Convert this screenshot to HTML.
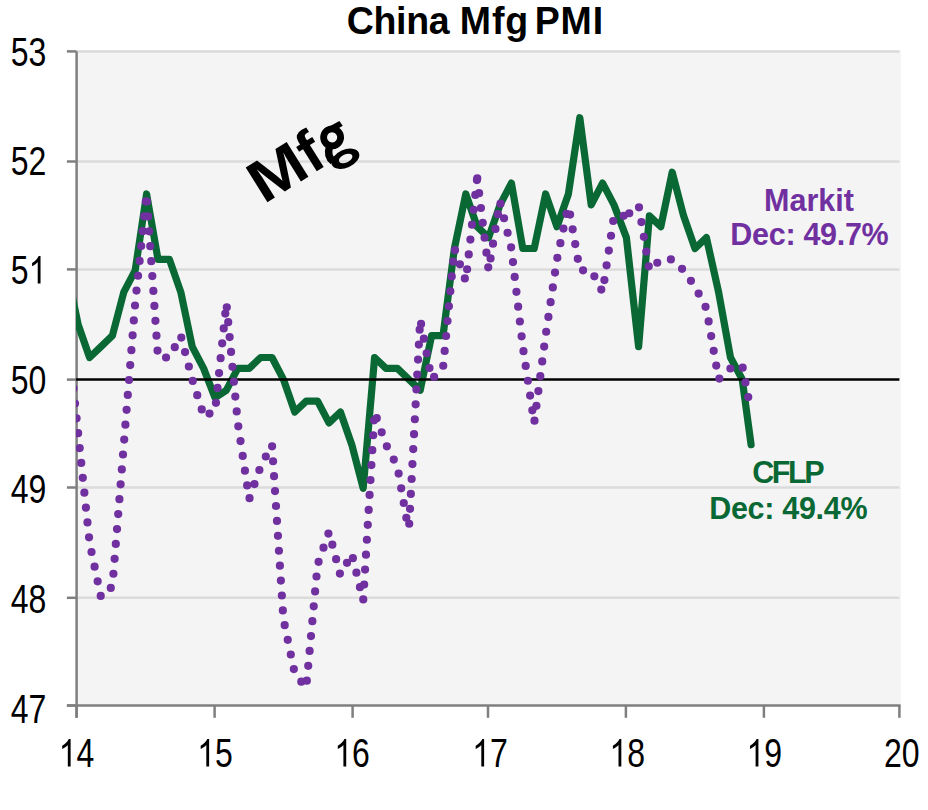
<!DOCTYPE html>
<html><head><meta charset="utf-8"><title>China Mfg PMI</title>
<style>html,body{margin:0;padding:0;background:#fff;}svg{display:block;}text{font-family:"Liberation Sans",sans-serif;}</style>
</head><body>
<svg width="928" height="810" viewBox="0 0 928 810">
<rect x="76.6" y="50.199999999999996" width="824.3" height="655.3" fill="#f4f4f4"/>
<line x1="76.6" y1="51.4" x2="899.4" y2="51.4" stroke="#dbdbdb" stroke-width="2.5"/>
<line x1="76.6" y1="161.5" x2="899.4" y2="161.5" stroke="#dbdbdb" stroke-width="2.5"/>
<line x1="76.6" y1="269.4" x2="899.4" y2="269.4" stroke="#dbdbdb" stroke-width="2.5"/>
<line x1="76.6" y1="487.5" x2="899.4" y2="487.5" stroke="#dbdbdb" stroke-width="2.5"/>
<line x1="76.6" y1="597.8" x2="899.4" y2="597.8" stroke="#dbdbdb" stroke-width="2.5"/>
<line x1="76.6" y1="51.4" x2="76.6" y2="717.8" stroke="#7f7f7f" stroke-width="2.5"/>
<line x1="66.9" y1="705.5" x2="900.6" y2="705.5" stroke="#7f7f7f" stroke-width="2.5"/>
<line x1="66.9" y1="51.4" x2="76.6" y2="51.4" stroke="#7f7f7f" stroke-width="2.5"/>
<line x1="66.9" y1="161.5" x2="76.6" y2="161.5" stroke="#7f7f7f" stroke-width="2.5"/>
<line x1="66.9" y1="269.4" x2="76.6" y2="269.4" stroke="#7f7f7f" stroke-width="2.5"/>
<line x1="66.9" y1="379.6" x2="76.6" y2="379.6" stroke="#7f7f7f" stroke-width="2.5"/>
<line x1="66.9" y1="487.5" x2="76.6" y2="487.5" stroke="#7f7f7f" stroke-width="2.5"/>
<line x1="66.9" y1="597.8" x2="76.6" y2="597.8" stroke="#7f7f7f" stroke-width="2.5"/>
<line x1="66.9" y1="705.5" x2="76.6" y2="705.5" stroke="#7f7f7f" stroke-width="2.5"/>
<line x1="76.6" y1="705.5" x2="76.6" y2="717.8" stroke="#7f7f7f" stroke-width="2.5"/>
<line x1="214.6" y1="705.5" x2="214.6" y2="717.8" stroke="#7f7f7f" stroke-width="2.5"/>
<line x1="352.6" y1="705.5" x2="352.6" y2="717.8" stroke="#7f7f7f" stroke-width="2.5"/>
<line x1="488.0" y1="705.5" x2="488.0" y2="717.8" stroke="#7f7f7f" stroke-width="2.5"/>
<line x1="625.9" y1="705.5" x2="625.9" y2="717.8" stroke="#7f7f7f" stroke-width="2.5"/>
<line x1="763.9" y1="705.5" x2="763.9" y2="717.8" stroke="#7f7f7f" stroke-width="2.5"/>
<line x1="899.4" y1="705.5" x2="899.4" y2="717.8" stroke="#7f7f7f" stroke-width="2.5"/>
<defs><clipPath id="c"><rect x="75.9" y="0" width="825.0" height="810"/></clipPath></defs>
<g clip-path="url(#c)">
<path d="M66.8,270.3 L78.2,324.8 L89.6,357.5 L101.0,346.6 L112.4,335.7 L123.8,292.1 L135.2,270.3 L146.6,194.0 L158.0,259.4 L169.4,259.4 L180.8,292.1 L192.2,346.6 L203.6,368.4 L215.0,397.8 L226.4,390.2 L237.8,368.4 L249.2,368.4 L260.6,357.5 L272.0,357.5 L283.4,379.3 L294.8,412.0 L306.2,401.1 L317.6,401.1 L329.0,422.9 L340.4,412.0 L351.8,444.7 L363.2,488.3 L374.6,357.5 L386.0,368.4 L397.4,368.4 L408.8,379.3 L420.2,390.2 L431.6,335.7 L443.0,335.7 L454.4,248.5 L465.8,194.0 L477.2,226.7 L488.6,237.6 L500.0,204.9 L511.4,183.1 L522.8,248.5 L534.2,248.5 L545.6,194.0 L557.0,226.7 L568.4,194.0 L579.8,117.7 L591.2,204.9 L602.6,183.1 L614.0,204.9 L626.4,237.6 L638.6,346.6 L649.4,215.8 L660.8,226.7 L672.2,172.2 L683.6,215.8 L695.0,248.5 L706.4,237.6 L718.6,292.1 L730.5,357.5 L742.2,379.3 L751.1,444.7" fill="none" stroke="#096833" stroke-width="7.2" stroke-linejoin="round" stroke-linecap="round"/>
<line x1="75.9" y1="379.6" x2="899.4" y2="379.6" stroke="#000" stroke-width="2.5"/>
<g fill="none" stroke="#7030a0" stroke-width="8.2" stroke-linejoin="round" stroke-linecap="round" stroke-dasharray="0 14.95">
<path d="M66.8,324.8 L78.2,433.8 L89.6,542.8 L101.0,597.3 L112.4,586.4 L123.8,444.7 L135.2,303.0 L146.6,194.0 L158.0,357.5 L169.4,357.5 L180.8,335.7 L192.2,379.3 L203.6,415.3" stroke-dashoffset="10.6"/>
<path d="M203.6,415.3 L215.0,412.0 L226.4,303.0 L237.8,422.9 L249.2,499.2 L260.6,466.5 L272.0,444.7 L283.4,619.1 L294.8,673.6 L306.2,687.8 L317.6,564.6 L329.0,531.9 L340.4,575.5" stroke-dashoffset="8.8"/>
<path d="M340.4,575.5 L351.8,553.7 L363.2,600.6 L374.6,412.0 L386.0,444.7 L397.4,466.5 L408.8,531.9" stroke-dashoffset="0.7"/>
<path d="M408.8,531.9 L420.2,319.4 L431.6,379.3 L443.0,368.4 L454.4,248.5 L465.8,281.2 L477.2,177.6" stroke-dashoffset="6.8"/>
<path d="M477.2,177.6 L488.6,270.3 L500.0,201.6 L511.4,248.5 L522.8,346.6 L534.2,422.9 L545.6,335.7 L557.0,259.4 L568.4,204.9" stroke-dashoffset="14.2"/>
<path d="M568.4,204.9 L579.8,270.3 L591.2,270.3 L602.6,292.1 L614.0,215.8 L626.4,215.8" stroke-dashoffset="5.1"/>
<path d="M626.4,215.8 L638.6,204.9 L649.4,270.3 L660.8,259.4 L672.2,259.4 L683.6,270.3 L695.0,286.6 L706.4,308.5 L718.6,379.3 L730.5,368.4 L742.2,365.1 L748.7,399.5" stroke-dashoffset="11.1"/>
</g>
</g>
<g transform="translate(10.81,64.70) scale(0.8,1)"><text x="0.00" y="0.8" font-size="40" font-family="Liberation Sans" fill="#000">5</text><text x="22.25" y="0.8" font-size="40" font-family="Liberation Sans" fill="#000">3</text></g>
<g transform="translate(10.81,174.60) scale(0.8,1)"><text x="0.00" y="0.8" font-size="40" font-family="Liberation Sans" fill="#000">5</text><text x="22.25" y="0.8" font-size="40" font-family="Liberation Sans" fill="#000">2</text></g>
<g transform="translate(10.81,283.60) scale(0.8,1)"><text x="0.00" y="0.8" font-size="40" font-family="Liberation Sans" fill="#000">5</text><path transform="translate(22.25,0) scale(0.01953,-0.01953)" d="M763 0L583 0L583 1100C540 1059 483 1019 413 980C342 941 279 911 223 891L223 1058C324 1103 412 1157 487 1222C562 1286 616 1349 647 1409L763 1409Z" fill="#000"/></g>
<g transform="translate(10.81,393.60) scale(0.8,1)"><text x="0.00" y="0.8" font-size="40" font-family="Liberation Sans" fill="#000">5</text><text x="22.25" y="0.8" font-size="40" font-family="Liberation Sans" fill="#000">0</text></g>
<g transform="translate(10.81,502.40) scale(0.8,1)"><text x="0.00" y="0.8" font-size="40" font-family="Liberation Sans" fill="#000">4</text><text x="22.25" y="0.8" font-size="40" font-family="Liberation Sans" fill="#000">9</text></g>
<g transform="translate(10.81,612.40) scale(0.8,1)"><text x="0.00" y="0.8" font-size="40" font-family="Liberation Sans" fill="#000">4</text><text x="22.25" y="0.8" font-size="40" font-family="Liberation Sans" fill="#000">8</text></g>
<g transform="translate(10.81,722.30) scale(0.8,1)"><text x="0.00" y="0.8" font-size="40" font-family="Liberation Sans" fill="#000">4</text><text x="22.25" y="0.8" font-size="40" font-family="Liberation Sans" fill="#000">7</text></g>
<g transform="translate(58.70,766.40) scale(0.8,1)"><path transform="translate(0.00,0) scale(0.01953,-0.01953)" d="M763 0L583 0L583 1100C540 1059 483 1019 413 980C342 941 279 911 223 891L223 1058C324 1103 412 1157 487 1222C562 1286 616 1349 647 1409L763 1409Z" fill="#000"/><text x="22.25" y="0.8" font-size="40" font-family="Liberation Sans" fill="#000">4</text></g>
<g transform="translate(197.20,766.40) scale(0.8,1)"><path transform="translate(0.00,0) scale(0.01953,-0.01953)" d="M763 0L583 0L583 1100C540 1059 483 1019 413 980C342 941 279 911 223 891L223 1058C324 1103 412 1157 487 1222C562 1286 616 1349 647 1409L763 1409Z" fill="#000"/><text x="22.25" y="0.8" font-size="40" font-family="Liberation Sans" fill="#000">5</text></g>
<g transform="translate(334.30,766.40) scale(0.8,1)"><path transform="translate(0.00,0) scale(0.01953,-0.01953)" d="M763 0L583 0L583 1100C540 1059 483 1019 413 980C342 941 279 911 223 891L223 1058C324 1103 412 1157 487 1222C562 1286 616 1349 647 1409L763 1409Z" fill="#000"/><text x="22.25" y="0.8" font-size="40" font-family="Liberation Sans" fill="#000">6</text></g>
<g transform="translate(472.20,766.40) scale(0.8,1)"><path transform="translate(0.00,0) scale(0.01953,-0.01953)" d="M763 0L583 0L583 1100C540 1059 483 1019 413 980C342 941 279 911 223 891L223 1058C324 1103 412 1157 487 1222C562 1286 616 1349 647 1409L763 1409Z" fill="#000"/><text x="22.25" y="0.8" font-size="40" font-family="Liberation Sans" fill="#000">7</text></g>
<g transform="translate(609.40,766.40) scale(0.8,1)"><path transform="translate(0.00,0) scale(0.01953,-0.01953)" d="M763 0L583 0L583 1100C540 1059 483 1019 413 980C342 941 279 911 223 891L223 1058C324 1103 412 1157 487 1222C562 1286 616 1349 647 1409L763 1409Z" fill="#000"/><text x="22.25" y="0.8" font-size="40" font-family="Liberation Sans" fill="#000">8</text></g>
<g transform="translate(746.50,766.40) scale(0.8,1)"><path transform="translate(0.00,0) scale(0.01953,-0.01953)" d="M763 0L583 0L583 1100C540 1059 483 1019 413 980C342 941 279 911 223 891L223 1058C324 1103 412 1157 487 1222C562 1286 616 1349 647 1409L763 1409Z" fill="#000"/><text x="22.25" y="0.8" font-size="40" font-family="Liberation Sans" fill="#000">9</text></g>
<g transform="translate(883.90,766.40) scale(0.8,1)"><text x="0.00" y="0.8" font-size="40" font-family="Liberation Sans" fill="#000">2</text><text x="22.25" y="0.8" font-size="40" font-family="Liberation Sans" fill="#000">0</text></g>
<text transform="translate(346.66,34.3) scale(1,1.03)" x="0" y="0" font-size="37.5" font-weight="bold" font-family="Liberation Sans" fill="#000" letter-spacing="-0.3">China</text>
<text transform="translate(459.79,34.3) scale(1,1.03)" x="0" y="0" font-size="37.5" font-weight="bold" font-family="Liberation Sans" fill="#000" letter-spacing="0.9">Mfg</text>
<text transform="translate(534.69,34.3) scale(1,1.03)" x="0" y="0" font-size="37.5" font-weight="bold" font-family="Liberation Sans" fill="#000" letter-spacing="0.9">PMI</text>
<g transform="translate(303.5,162) rotate(-32)" fill="#000"><text transform="scale(1.16,1)" x="-48.66" y="15" font-size="59.6" font-weight="bold" font-family="Liberation Sans">M</text><text x="0.8" y="15" font-size="59.6" font-weight="bold" font-family="Liberation Sans">f</text><path fill-rule="evenodd" d="M49.20,-5.70A11.9,11.9 0 1 1 25.40,-5.70A11.9,11.9 0 1 1 49.20,-5.70ZM42.40,-5.70A5.1,5.1 0 1 1 32.20,-5.70A5.1,5.1 0 1 1 42.40,-5.70Z"/><path fill-rule="evenodd" d="M51.86,21.46A14.8,9.0 8 1 1 22.54,17.34A14.8,9.0 8 1 1 51.86,21.46ZM44.73,20.40A7.2,4.0 8 1 1 30.47,18.40A7.2,4.0 8 1 1 44.73,20.40Z"/><path d="M34.5,-16.9 L52.2,-15.8 L52.5,-10 L40,-10.2Z"/><path d="M30,1 Q22.5,7.5 25.5,15" fill="none" stroke="#000" stroke-width="7.5"/></g>
<text x="809" y="210.5" text-anchor="middle" font-size="30.5" font-weight="bold" font-family="Liberation Sans" fill="#7030a0">Markit</text>
<text x="809.4" y="245.2" text-anchor="middle" font-size="30.5" font-weight="bold" font-family="Liberation Sans" fill="#7030a0" letter-spacing="-0.3">Dec: 49.7%</text>
<text x="787.2" y="483.4" text-anchor="middle" font-size="30.5" font-weight="bold" font-family="Liberation Sans" fill="#096833" letter-spacing="-2.4">CFLP</text>
<text x="788.2" y="518.9" text-anchor="middle" font-size="30.5" font-weight="bold" font-family="Liberation Sans" fill="#096833" letter-spacing="-0.3">Dec: 49.4%</text>
</svg>
</body></html>
